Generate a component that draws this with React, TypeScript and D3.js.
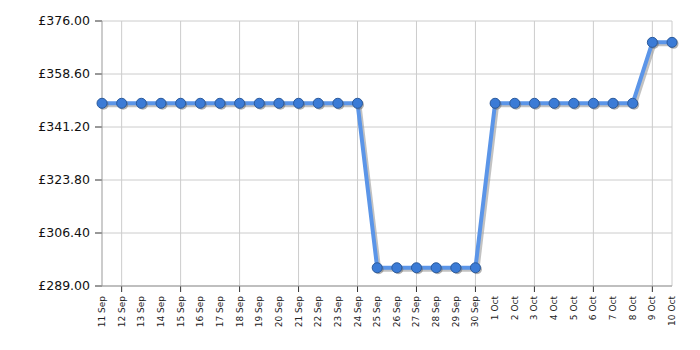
import React from "react";
import * as d3 from "d3";

const dates = [
  "11 Sep","12 Sep","13 Sep","14 Sep","15 Sep","16 Sep","17 Sep","18 Sep","19 Sep","20 Sep",
  "21 Sep","22 Sep","23 Sep","24 Sep","25 Sep","26 Sep","27 Sep","28 Sep","29 Sep","30 Sep",
  "1 Oct","2 Oct","3 Oct","4 Oct","5 Oct","6 Oct","7 Oct","8 Oct","9 Oct","10 Oct",
];
const prices = [
  348.99,348.99,348.99,348.99,348.99,348.99,348.99,348.99,348.99,348.99,
  348.99,348.99,348.99,348.99,294.99,294.99,294.99,294.99,294.99,294.99,
  348.99,348.99,348.99,348.99,348.99,348.99,348.99,348.99,368.99,368.99,
];
const yTicks = [289.0, 306.4, 323.8, 341.2, 358.6, 376.0];
const gridDates = ["12 Sep","15 Sep","18 Sep","21 Sep","24 Sep","27 Sep","30 Sep","3 Oct","6 Oct","9 Oct"];

export default function App() {
  const W = 700, H = 350;
  const left = 102, right = 672, top = 21, bottom = 286;
  const x = d3.scalePoint<string>().domain(dates).range([left, right]);
  const y = d3.scaleLinear().domain([289, 376]).range([bottom, top]);
  const data = dates.map((d, i) => ({ d, v: prices[i] }));
  const line = d3.line<{ d: string; v: number }>().x(p => x(p.d)!).y(p => y(p.v));
  const path = line(data) || "";
  return (
    <svg width={W} height={H} style={{ position: "absolute", left: 0, top: 0 }} fontFamily="DejaVu Sans, Verdana, sans-serif">
      <rect width={W} height={H} fill="#fff" />
      {yTicks.map(t => (
        <g key={t}>
          <line x1={left} x2={right} y1={y(t)} y2={y(t)} stroke="#cccccc" strokeWidth={1} />
          <line x1={left - 7} x2={left} y1={y(t)} y2={y(t)} stroke="#333" strokeWidth={1} />
          <text x={left - 12} y={y(t)} dy="0.35em" textAnchor="end" fontSize={12.5} fill="#111">
            {"£" + t.toFixed(2)}
          </text>
        </g>
      ))}
      {gridDates.map(d => (
        <g key={d}>
          <line x1={x(d)} x2={x(d)} y1={top} y2={bottom} stroke="#cccccc" strokeWidth={1} />
          <line x1={x(d)} x2={x(d)} y1={bottom} y2={bottom + 6} stroke="#333" strokeWidth={1} />
        </g>
      ))}
      <line x1={right} x2={right} y1={top} y2={bottom} stroke="#cccccc" />
      <line x1={left} x2={left} y1={top} y2={bottom} stroke="#999" />
      <line x1={left} x2={right} y1={bottom} y2={bottom} stroke="#999" />
      {dates.map(d => (
        <text key={d} transform={`translate(${x(d)! + 3},${bottom + 10}) rotate(-90)`} textAnchor="end" fontSize={9} fill="#222">
          {d}
        </text>
      ))}
      <path d={path} transform="translate(2,2)" fill="none" stroke="#999" strokeOpacity={0.6} strokeWidth={4} />
      <path d={path} fill="none" stroke="#5b95e8" strokeWidth={4} strokeLinejoin="round" />
      {data.map(p => (
        <circle key={p.d} cx={x(p.d)! + 1.5} cy={y(p.v) + 1.5} r={5} fill="#666" fillOpacity={0.5} />
      ))}
      {data.map(p => (
        <circle key={p.d + "m"} cx={x(p.d)} cy={y(p.v)} r={5} fill="#3b7bd6" stroke="#2b5a9c" strokeWidth={1} />
      ))}
    </svg>
  );
}
